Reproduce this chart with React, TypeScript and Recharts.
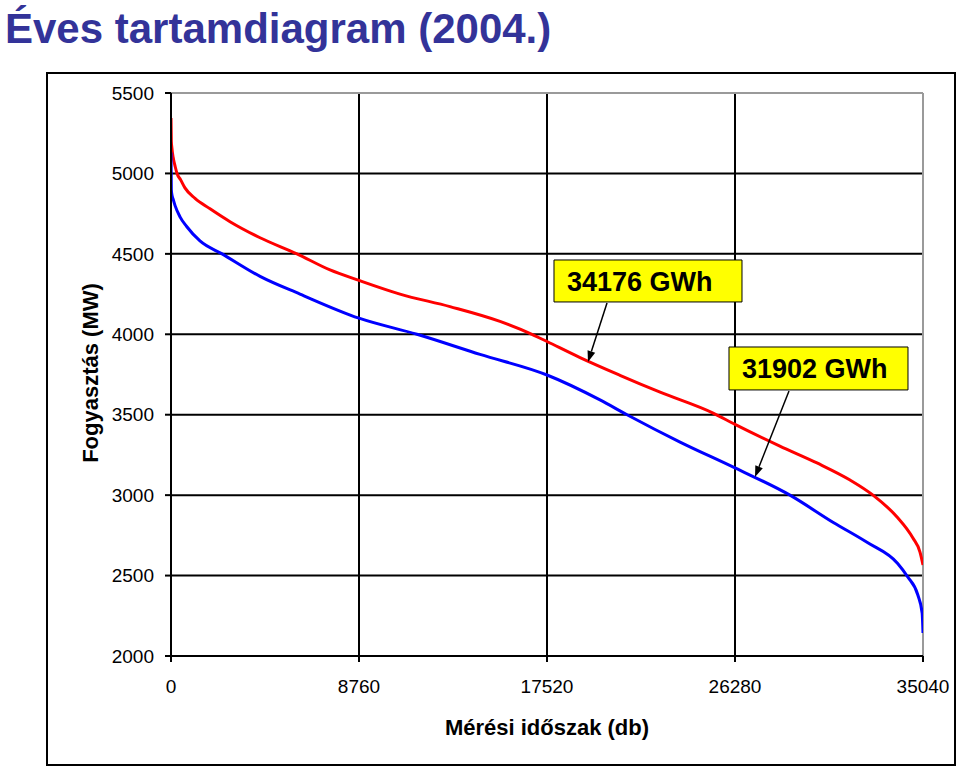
import React from 'react';
import { LineChart, Line, XAxis, YAxis, CartesianGrid, ReferenceLine, ReferenceArea } from 'recharts';

const FONT = '"Liberation Sans", Arial, Helvetica, sans-serif';

// Axis ticks
const xTicks = [0, 8760, 17520, 26280, 35040];
const yTicks = [2000, 2500, 3000, 3500, 4000, 4500, 5000, 5500];

// Red curve (34176 GWh)
const redT = [0, 15, 40, 100, 200, 280, 450, 650, 1120, 1820, 2750, 4150, 5870, 7410, 8760, 10670, 13000, 15330, 16820, 17520, 19060, 20920, 22790, 25260, 26280, 28370, 30100, 31640, 32710, 33830, 34570, 34900, 35040];
const redMW = [5345, 5200, 5160, 5100, 5040, 5000, 4960, 4910, 4845, 4780, 4700, 4600, 4500, 4400, 4335, 4250, 4172, 4080, 4000, 3955, 3855, 3745, 3640, 3510, 3440, 3305, 3200, 3094, 3000, 2864, 2733, 2646, 2566];

// Blue curve (31902 GWh)
const blueT = [0, 15, 40, 100, 190, 420, 730, 1350, 2380, 4150, 6010, 8760, 11460, 14400, 17520, 19990, 21250, 23720, 26280, 28840, 30860, 32450, 33860, 34330, 34800, 35000, 35040];
const blueMW = [5130, 4900, 4870, 4840, 4800, 4730, 4670, 4580, 4500, 4360, 4250, 4100, 4000, 3875, 3747, 3592, 3500, 3330, 3169, 3000, 2830, 2705, 2575, 2491, 2379, 2267, 2143];

// Annotations (in data units)
const boxLabels = ['34176 GWh', '31902 GWh'];
const boxX1 = [17846, 26000];
const boxX2 = [26606, 34341];
const boxY1 = [4201, 3654];
const boxY2 = [4462, 3921];
const arrowFromT = [20316, 28796];
const arrowFromMW = [4195, 3647];
const arrowToT = [19430, 27212];
const arrowToMW = [3828, 3113];

const redData = redT.map((t, i) => ({ t, v: redMW[i] }));
const blueData = blueT.map((t, i) => ({ t, v: blueMW[i] }));

const arrowShape = (props: any) => {
  const { x1, y1, x2, y2 } = props;
  if ([x1, y1, x2, y2].some((v) => typeof v !== 'number' || isNaN(v))) return <g />;
  const ang = Math.atan2(y2 - y1, x2 - x1);
  const L = 11;
  const W = 4;
  const bx = x2 - L * Math.cos(ang);
  const by = y2 - L * Math.sin(ang);
  const px = -Math.sin(ang) * W;
  const py = Math.cos(ang) * W;
  return (
    <g>
      <line x1={x1} y1={y1} x2={bx} y2={by} stroke="#000" strokeWidth={1.5} />
      <polygon points={`${x2},${y2} ${bx + px},${by + py} ${bx - px},${by - py}`} fill="#000" />
    </g>
  );
};

const YTick = (props: any) => {
  const { x, y, payload } = props;
  return (
    <text x={x} y={y} dy="0.35em" textAnchor="end" fontFamily={FONT} fontSize={19} fill="#000">
      {payload.value}
    </text>
  );
};

const XTick = (props: any) => {
  const { x, y, payload } = props;
  return (
    <text x={x} y={y} dy="0.71em" textAnchor="middle" fontFamily={FONT} fontSize={19} fill="#000">
      {payload.value}
    </text>
  );
};

export default function App() {
  return (
    <div style={{ position: 'absolute', left: 0, top: 0, width: 959, height: 767, background: '#fff' }}>
      <svg width={959} height={767} style={{ position: 'absolute', left: 0, top: 0 }}>
        <text x={5} y={43} fontFamily={FONT} fontSize={42} fontWeight="bold" fill="#333399">
          Éves tartamdiagram (2004.)
        </text>
        <rect x={47} y={73} width={908} height={692} fill="none" stroke="#000" strokeWidth={2} />
        <text
          transform="translate(98,373) rotate(-90)"
          x={0}
          y={0}
          textAnchor="middle"
          fontFamily={FONT}
          fontSize={22}
          fontWeight="bold"
          fill="#000"
        >
          Fogyasztás (MW)
        </text>
        <text x={547} y={735} textAnchor="middle" fontFamily={FONT} fontSize={22} fontWeight="bold" fill="#000">
          Mérési időszak (db)
        </text>
      </svg>
      <div style={{ position: 'absolute', left: 0, top: 0 }}>
        <LineChart width={959} height={767} margin={{ top: 93, right: 36, bottom: 0, left: 0 }}>
          <CartesianGrid
            stroke="#000"
            strokeWidth={2}
            horizontalValues={[2500, 3000, 3500, 4000, 4500, 5000]}
            verticalValues={[8760, 17520, 26280]}
          />
          <XAxis
            dataKey="t"
            type="number"
            domain={[0, 35040]}
            ticks={xTicks}
            interval={0}
            height={111}
            tickSize={6}
            tickMargin={18}
            tick={<XTick />}
            axisLine={{ stroke: '#000', strokeWidth: 2 }}
            tickLine={{ stroke: '#000', strokeWidth: 2 }}
            allowDataOverflow
          />
          <YAxis
            type="number"
            domain={[2000, 5500]}
            ticks={yTicks}
            interval={0}
            width={171}
            tickSize={6}
            tickMargin={11}
            tick={<YTick />}
            axisLine={{ stroke: '#000', strokeWidth: 2 }}
            tickLine={{ stroke: '#000', strokeWidth: 2 }}
            allowDataOverflow
          />
          <ReferenceLine y={5500} stroke="#9a9a9a" strokeWidth={2} />
          <ReferenceLine x={35040} stroke="#9a9a9a" strokeWidth={2} />
          <Line data={redData} dataKey="v" type="monotone" stroke="#ff0000" strokeWidth={3} dot={false} isAnimationActive={false} />
          <Line data={blueData} dataKey="v" type="monotone" stroke="#0000ff" strokeWidth={3} dot={false} isAnimationActive={false} />
          {boxLabels.map((lab, i) => (
            <ReferenceArea
              key={'b' + i}
              x1={boxX1[i]}
              x2={boxX2[i]}
              y1={boxY1[i]}
              y2={boxY2[i]}
              fill="#ffff00"
              fillOpacity={1}
              stroke="#000"
              strokeWidth={1}
              ifOverflow="visible"
              label={{ value: lab, position: 'insideLeft', offset: 13, fontSize: 27, fontWeight: 'bold', fill: '#000', fontFamily: FONT }}
            />
          ))}
          {boxLabels.map((lab, i) => (
            <ReferenceLine
              key={'a' + i}
              segment={[
                { x: arrowFromT[i], y: arrowFromMW[i] },
                { x: arrowToT[i], y: arrowToMW[i] },
              ]}
              ifOverflow="visible"
              shape={arrowShape}
            />
          ))}
        </LineChart>
      </div>
    </div>
  );
}
